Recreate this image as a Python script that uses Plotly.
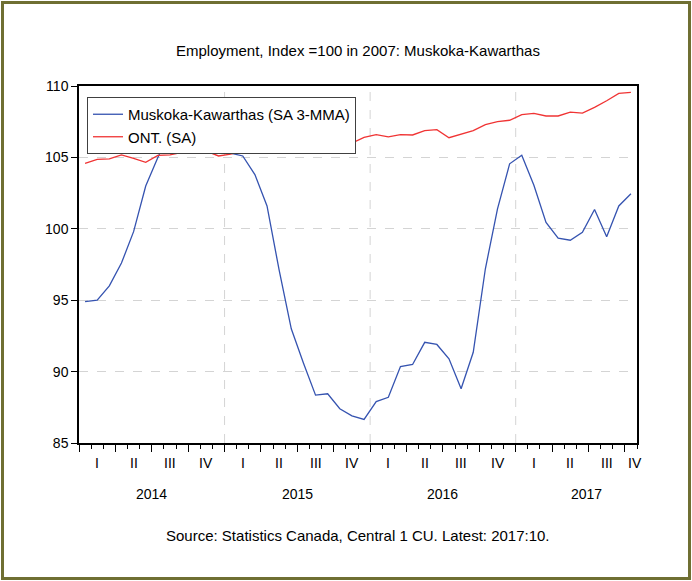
import plotly.graph_objects as go

# Monthly data Jan 2014 .. Oct 2017
years = [2014, 2015, 2016, 2017]
quarters = ["I", "II", "III", "IV"]
muskoka = [94.9, 95.0, 96.0, 97.6, 99.8, 103.0, 105.0, 106.8, 107.6, 107.9, 107.3, 106.4,
           105.3, 105.1, 103.8, 101.6, 97.1, 93.0, 90.6, 88.35, 88.45, 87.4, 86.9, 86.65,
           87.9, 88.2, 90.35, 90.5, 92.05, 91.9, 90.9, 88.8, 91.35, 97.2, 101.4, 104.55,
           105.15, 103.05, 100.45, 99.35, 99.2, 99.75, 101.35, 99.45, 101.6, 102.45]
ontario = [104.58, 104.86, 104.9, 105.18, 104.93, 104.65, 105.14, 105.18, 105.35, 105.9, 105.44, 105.1,
           105.23, 105.46, 105.39, 105.28, 105.8, 106.1, 106.3, 106.2, 105.6, 106.0, 106.0, 106.4,
           106.6, 106.44, 106.6, 106.57, 106.87, 106.94, 106.38, 106.64, 106.87, 107.3, 107.5, 107.6,
           108.0, 108.08, 107.9, 107.9, 108.17, 108.1, 108.5, 108.97, 109.48, 109.55]
y_ticks = [85, 90, 95, 100, 105, 110]

n = len(muskoka)
xs = [i + 0.5 for i in range(n)]

W, H = 692, 581
ML, MR, MT, MB = 79, 55, 86, 138
PW, PH = W - ML - MR, H - MT - MB
FONT = "Liberation Sans, Arial, sans-serif"

fig = go.Figure()
fig.add_trace(go.Scatter(x=xs, y=muskoka, mode="lines", name="Muskoka-Kawarthas (SA 3-MMA)",
                         line=dict(color="#3553b0", width=1.3)))
fig.add_trace(go.Scatter(x=xs, y=ontario, mode="lines", name="ONT. (SA)",
                         line=dict(color="#f03434", width=1.3)))

# vertical year gridlines
for k in range(1, len(years)):
    fig.add_shape(type="line", xref="x", yref="paper", x0=12 * k, x1=12 * k, y0=0, y1=1,
                  line=dict(color="#d4d4d4", width=1, dash="dash"), layer="below")

annotations = []
# quarter labels
for q in range(n // 3 + (1 if n % 3 else 0)):
    annotations.append(dict(x=q * 3 + 1.5 if q * 3 + 3 <= n else q * 3 + (n - q * 3) / 2 + 0.3,
                            y=-(463 - (H - MB)) / PH, xref="x", yref="paper",
                            text=quarters[q % 4], showarrow=False, yanchor="middle",
                            font=dict(family=FONT, size=14, color="#000000")))
# year labels
for k, yr in enumerate(years):
    end = min(12 * (k + 1), n)
    annotations.append(dict(x=12 * k + 6 if end - 12 * k == 12 else (12 * k + end) / 2 + 0.8,
                            y=-(494 - (H - MB)) / PH, xref="x", yref="paper",
                            text=str(yr), showarrow=False, yanchor="middle",
                            font=dict(family=FONT, size=14, color="#000000")))
annotations.append(dict(x=0.5, y=(H - 535 - MB) / PH, xref="paper", yref="paper",
                        text="Source: Statistics Canada, Central 1 CU. Latest: 2017:10.",
                        showarrow=False, yanchor="middle",
                        font=dict(family=FONT, size=15, color="#000000")))
annotations.append(dict(x=0.5, y=(H - 51 - MB) / PH, xref="paper", yref="paper",
                        text="Employment, Index =100 in 2007: Muskoka-Kawarthas",
                        showarrow=False, yanchor="middle",
                        font=dict(family=FONT, size=15, color="#000000")))

# outer olive frame
fig.add_shape(type="rect", xref="paper", yref="paper",
              x0=(2.5 - ML) / PW, x1=(W - 2.5 - ML) / PW,
              y0=-(MB - 2.5) / PH, y1=1 + (MT - 2.5) / PH,
              line=dict(color="#6f6f32", width=3), fillcolor="rgba(0,0,0,0)")

fig.update_layout(
    width=W, height=H,
    margin=dict(l=ML, r=MR, t=MT, b=MB),
    paper_bgcolor="white", plot_bgcolor="white",
    showlegend=True,
    legend=dict(x=(87 - ML) / PW, y=(H - MB - 97) / PH, xanchor="left", yanchor="top",
                bordercolor="#404040", borderwidth=1, bgcolor="white",
                font=dict(family=FONT, size=15, color="#000000"),
                tracegroupgap=0, itemwidth=30),
    annotations=annotations,
    xaxis=dict(range=[0, n], showgrid=False, zeroline=False,
               showline=True, linecolor="#000", linewidth=1.5, mirror=True,
               tickvals=list(range(0, n, 3)), ticks="outside", ticklen=7, tickcolor="#000",
               showticklabels=False,
               minor=dict(tickvals=list(range(0, n + 1)), ticks="outside", ticklen=4,
                          tickcolor="#000", showgrid=False)),
    yaxis=dict(range=[y_ticks[0], y_ticks[-1]], tickvals=y_ticks, ticks="outside", ticklen=6,
               tickcolor="#000", showline=True, linecolor="#000", linewidth=1.5, mirror=True,
               showgrid=True, gridcolor="#d4d4d4", griddash="dash", gridwidth=1, zeroline=False,
               tickfont=dict(family=FONT, size=14, color="#000000")),
)

fig.write_html("out.html", config={"displayModeBar": False},
               post_script="document.body.style.margin='0px';")
